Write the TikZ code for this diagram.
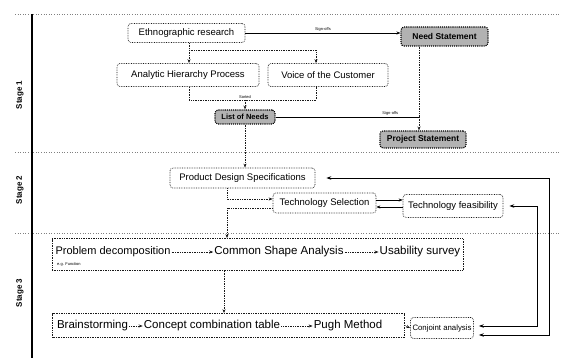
\documentclass[tikz,border=0pt]{standalone}
\usepackage{fontspec}
\setmainfont{Liberation Sans}
\usetikzlibrary{arrows.meta,calc}
\begin{document}
\begin{tikzpicture}[x=1pt,y=-1pt,
  box/.style={draw=black!90, densely dotted, line width=0.7pt, rounded corners=3pt, fill=white, inner sep=2pt, font=\fontsize{9.5}{11}\selectfont},
  gbox/.style={draw=black, line width=1.1pt, densely dotted, rounded corners=3pt, fill=gray!60, inner sep=2pt, font=\fontsize{8.5}{10}\selectfont\bfseries},
  bigbox/.style={draw=black!90, densely dotted, line width=0.7pt, inner sep=0pt},
  itext/.style={inner sep=1pt, font=\fontsize{11.5}{13}\selectfont},
  link/.style={draw=black!90, densely dotted, line width=0.7pt, -{Stealth[length=4pt,width=3pt]}},
  plain/.style={draw=black!90, densely dotted, line width=0.7pt},
  sline/.style={draw=black, line width=0.6pt},
  slink/.style={draw=black, line width=0.6pt, -{Stealth[length=4pt,width=3pt]}},
  big/.style={draw=black, line width=0.9pt, {Stealth[length=5pt,width=3.5pt]}-{Stealth[length=5pt,width=3.5pt]}},
  lbl/.style={font=\fontsize{4}{5}\selectfont, inner sep=1pt},
  sep/.style={draw=black!50, dotted, line width=0.6pt},
  stagelbl/.style={rotate=90, font=\fontsize{8}{9}\selectfont\bfseries}
]
\useasboundingbox[fill=white] (0,0) rectangle (561,358);

% stage frame
\draw[sep] (15,14) -- (561,14);
\draw[sep] (15,152) -- (561,152);
\draw[sep] (15,233) -- (561,233);
\draw[line width=1.2pt] (32,14) -- (32,358);
\node[stagelbl] (s1) at (20,95) {Stage 1};
\node[stagelbl] (s2) at (20,190) {Stage 2};
\node[stagelbl] (s3) at (20,293) {Stage 3};

% stage 1
\node[box, minimum width=117pt, minimum height=19pt] (ethno) at (186.5,33) {Ethnographic research};
\node[gbox, minimum width=87pt, minimum height=19pt] (need) at (444.5,36.5) {Need Statement};
\node[box, minimum width=142pt, minimum height=23pt] (ahp) at (188,75) {Analytic Hierarchy Process};
\node[box, minimum width=120pt, minimum height=23pt] (voc) at (328,75) {Voice of the Customer};
\node[gbox, minimum width=60pt, minimum height=14pt, font=\fontsize{7.5}{9}\selectfont\bfseries] (list) at (245,117) {List of Needs};
\node[gbox, minimum width=86pt, minimum height=17pt] (proj) at (423,139.5) {Project Statement};

% stage 2
\node[box, minimum width=145pt, minimum height=20pt] (pds) at (242.5,178) {Product Design Specifications};
\node[box, minimum width=103pt, minimum height=20pt] (tsel) at (324.5,203) {Technology Selection};
\node[box, minimum width=100pt, minimum height=23pt] (tfeas) at (453,206) {Technology feasibility};

% stage 3
\node[bigbox, minimum width=411pt, minimum height=32pt] (pbox) at (257.5,254.5) {};
\node[bigbox, minimum width=352pt, minimum height=24pt] (bbox) at (228.5,325.5) {};
\node[box, minimum width=62pt, minimum height=21pt, font=\fontsize{7.8}{9}\selectfont] (conj) at (442,328) {Conjoint analysis};

\node[itext, font=\fontsize{11}{13}\selectfont] (p1) at (113,252) {Problem decomposition};
\node[lbl, anchor=west] (p1n) at (56,264) {e.g. Function};
\node[itext] (p2) at (279,252) {Common Shape Analysis};
\node[itext] (p3) at (420,252) {Usability survey};
\draw[link] (p1) -- (p2);
\draw[link] (p2) -- (p3);

\node[itext] (b1) at (92.5,326) {Brainstorming};
\node[itext] (b2) at (212,326) {Concept combination table};
\node[itext] (b3) at (348,326) {Pugh Method};
\draw[link] (b1) -- (b2);
\draw[link] (b2) -- (b3);

% connectors stage 1
\draw[slink] (ethno.east) -- (ethno.east -| need.west) node[lbl, midway, above] (l1) {Sign-offs};
\coordinate (j1) at (189,50);
\coordinate (j2) at (316,50);
\draw[plain] (ethno.south -| j1) -- (j1);
\draw[link] (j1) -- (ahp.north -| j1);
\draw[link] (j1) -- (j2) -- (voc.north -| j2);
\coordinate (j3) at (189,100);
\coordinate (j4) at (316,100);
\coordinate (j5) at (245,100);
\draw[plain] (ahp.south -| j3) -- (j3) -- (j4) -- (voc.south -| j4);
\node[lbl, above] (l2) at (j5) {Sorted};
\draw[link] (j5) -- (list.north);
\coordinate (j6) at (419,117);
\draw[sline] (list.east) -- (j6) node[lbl, pos=0.8, above] (l3) {Sign-offs};
\draw[plain] (need.south -| j6) -- (j6);
\draw[link] (j6) -- (proj.north -| j6);
\draw[link] (list.south) -- (list.south |- pds.north);

% connectors stage 2
\coordinate (j7) at (227,199);
\draw[link] (pds.south -| j7) -- (j7) -- (j7 -| tsel.west);
\coordinate (j8) at (227,208);
\draw[link] (tsel.west |- j8) -- (j8) -- (j8 |- pbox.north);
\path ([yshift=3pt]tsel.east) coordinate (ta) ([yshift=-4pt]tsel.east) coordinate (tb);
\draw[slink] (ta) -- (ta -| tfeas.west);
\draw[slink] (tb -| tfeas.west) -- (tb);

% connectors stage 3
\coordinate (j9) at (224,300);
\draw[link] (pbox.south -| j9) -- (bbox.north -| j9);
\draw[link] (bbox.east) -- (conj.west);

% long feedback connectors
\path ([yshift=2pt]conj.east) coordinate (c1) ([yshift=-7pt]conj.east) coordinate (c2);
\coordinate (r1) at (537,206);
\coordinate (r2) at (549,178);
\draw[big, shorten <=5pt, shorten >=6pt] (c1) -| (r1) -- (tfeas.east);
\draw[big, shorten <=5pt, shorten >=11pt] (c2) -| (r2) -- (pds.east);
\end{tikzpicture}
\end{document}
